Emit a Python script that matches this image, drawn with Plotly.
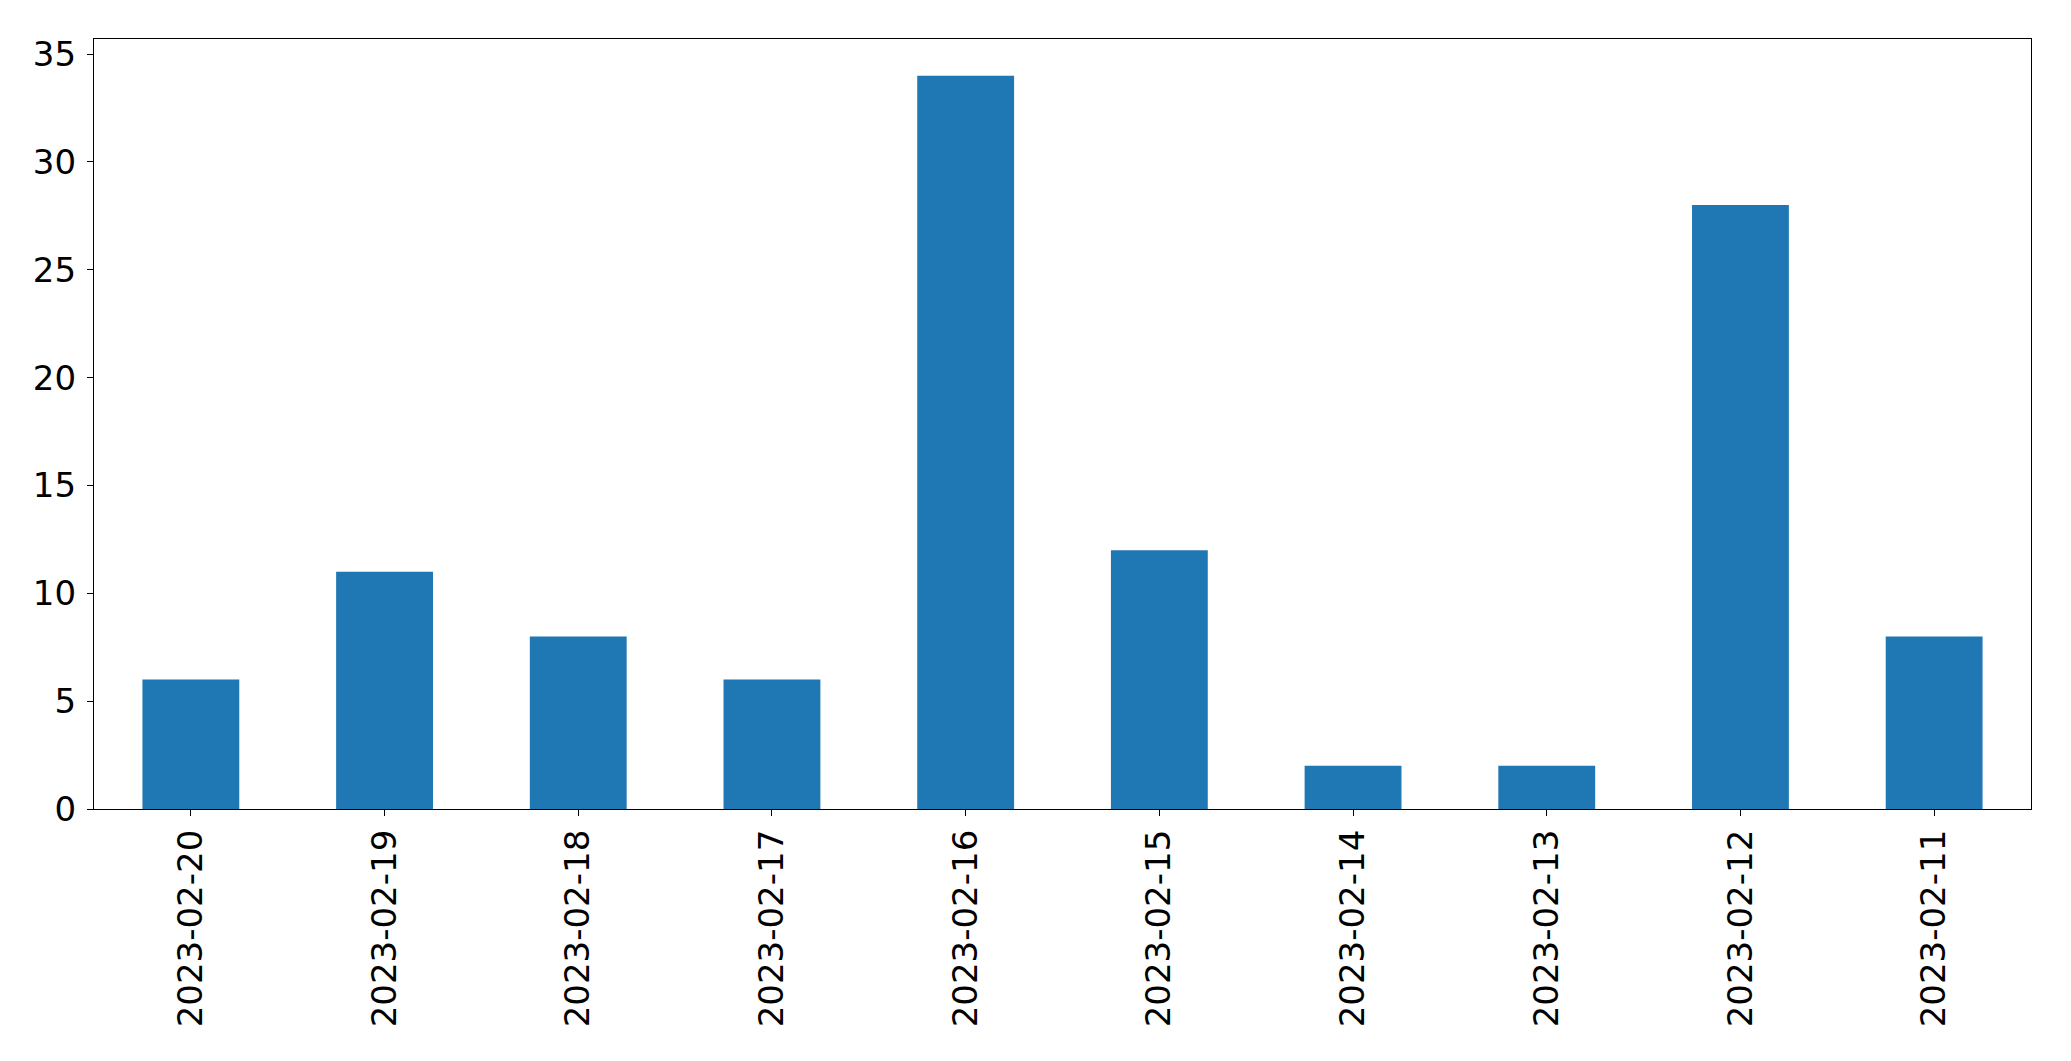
import plotly.graph_objects as go

dates = ["2023-02-20", "2023-02-19", "2023-02-18", "2023-02-17", "2023-02-16",
         "2023-02-15", "2023-02-14", "2023-02-13", "2023-02-12", "2023-02-11"]
counts = [6, 11, 8, 6, 34, 12, 2, 2, 28, 8]
y_ticks = [0, 5, 10, 15, 20, 25, 30, 35]

fig = go.Figure(go.Bar(x=dates, y=counts, marker=dict(color="#1f77b4", line=dict(width=0)), width=0.5))

font = dict(family="DejaVu Sans", size=34, color="black")
# page body has an 8px default margin, so the figure is shifted by 8px
fig.update_layout(
    width=2063, height=1053,
    margin=dict(l=86, r=40, t=31, b=252),
    plot_bgcolor="white", paper_bgcolor="white",
    showlegend=False,
    font=font,
)
fig.update_xaxes(
    type="category", range=[-0.5, 9.5], tickangle=-90, tickfont=font,
    showline=True, linecolor="black", linewidth=1.3, mirror=True,
    ticks="outside", ticklen=6, tickwidth=1.3, tickcolor="black",
    showgrid=False, ticklabelstandoff=0, automargin=False,
)
fig.update_yaxes(
    range=[0, 35.7], tickvals=y_ticks, tickfont=font,
    showline=True, linecolor="black", linewidth=1.3, mirror=True,
    ticks="outside", ticklen=6, tickwidth=1.3, tickcolor="black",
    showgrid=False, zeroline=False, ticklabelstandoff=4, automargin=False,
)
fig.write_html("out.html")
